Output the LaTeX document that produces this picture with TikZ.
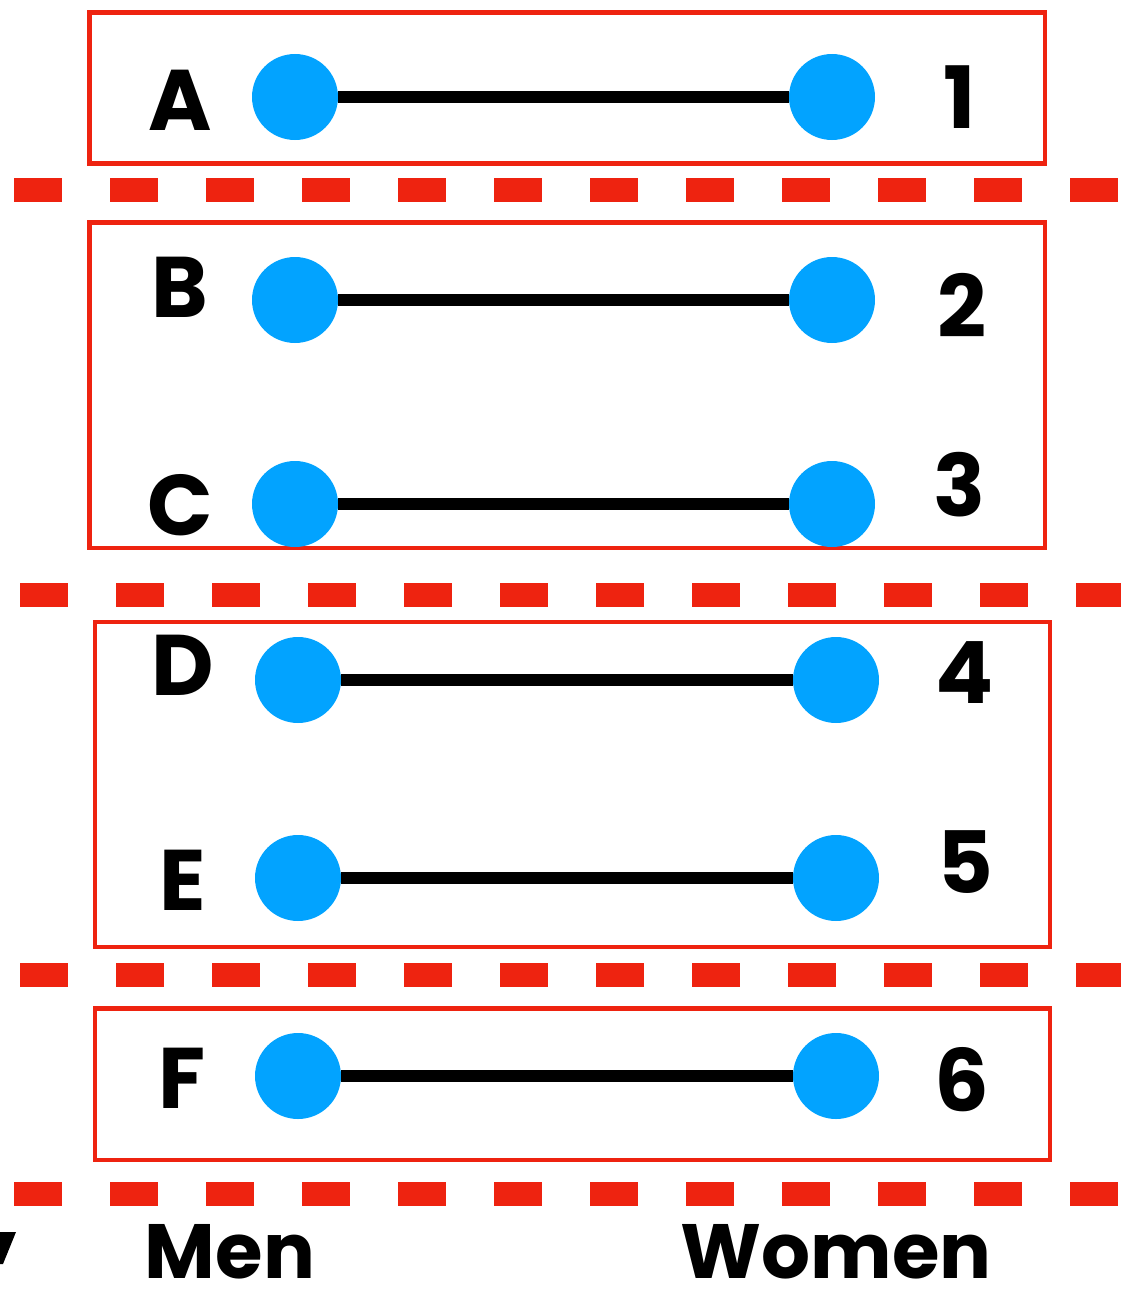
\documentclass[tikz,border=0pt]{standalone}
\usepackage{fontspec}
\setmainfont{Poppins}
\definecolor{groupred}{RGB}{238,35,16}
\definecolor{dotblue}{RGB}{2,163,255}
\begin{document}
\begin{tikzpicture}[x=1pt,y=-1pt,
  groupbox/.style={draw=groupred,line width=4.5pt},
  divider/.style={groupred,line width=24pt,dash pattern=on 48pt off 48pt},
  dot/.style={circle,fill=dotblue,inner sep=0pt,minimum size=86pt},
  pair/.style={line width=12pt,black},
  lbl/.style={font=\fontsize{86}{86}\selectfont\bfseries,inner sep=0pt},
  side/.style={font=\fontsize{77}{77}\selectfont\bfseries,inner sep=0pt,
    anchor=base,text depth=0pt}]
\useasboundingbox (0,0) rectangle (1121,1290);

% group frames
\draw[groupbox] (89.5,12.5) rectangle (1045,163.5);
\draw[groupbox] (89.5,222.5) rectangle (1045,548);
\draw[groupbox] (95,622) rectangle (1050,947);
\draw[groupbox] (95,1008.5) rectangle (1050,1160);

% dashed separators
\draw[divider] (14,190) -- (1118,190);
\draw[divider] (20,595) -- (1121,595);
\draw[divider] (20,975) -- (1121,975);
\draw[divider] (14,1194) -- (1118,1194);

% men (left) and women (right)
\node[dot] (mA) at (295,97) {};   \node[dot] (w1) at (832,97) {};
\node[dot] (mB) at (295,300) {};  \node[dot] (w2) at (832,300) {};
\node[dot] (mC) at (295,504) {};  \node[dot] (w3) at (832,504) {};
\node[dot] (mD) at (298,680) {};  \node[dot] (w4) at (836,680) {};
\node[dot] (mE) at (298,878) {};  \node[dot] (w5) at (836,878) {};
\node[dot] (mF) at (298,1076) {}; \node[dot] (w6) at (836,1076) {};

% matching edges
\draw[pair] (mA) -- (w1);
\draw[pair] (mB) -- (w2);
\draw[pair] (mC) -- (w3);
\draw[pair] (mD) -- (w4);
\draw[pair] (mE) -- (w5);
\draw[pair] (mF) -- (w6);

% vertex labels
\node[lbl] (lA) at (180,100) {A};  \node[lbl] (l1) at (960,97) {1};
\node[lbl] (lB) at (180,287) {B};  \node[lbl] (l2) at (962,305) {2};
\node[lbl] (lC) at (180,505) {C};  \node[lbl] (l3) at (960,485) {3};
\node[lbl] (lD) at (183,665) {D};  \node[lbl] (l4) at (965,673) {4};
\node[lbl] (lE) at (183,880) {E};  \node[lbl] (l5) at (965,862) {5};
\node[lbl] (lF) at (182,1078) {F}; \node[lbl] (l6) at (962,1080) {6};

% side captions
\node[side] (men) at (230,1278) {Men};
\node[side] (women) at (836,1278) {Women};

% clipped stroke at the lower left edge
\fill[black] (0,1232) -- (16,1232) -- (3,1264) -- (0,1264) -- cycle;
\end{tikzpicture}
\end{document}
